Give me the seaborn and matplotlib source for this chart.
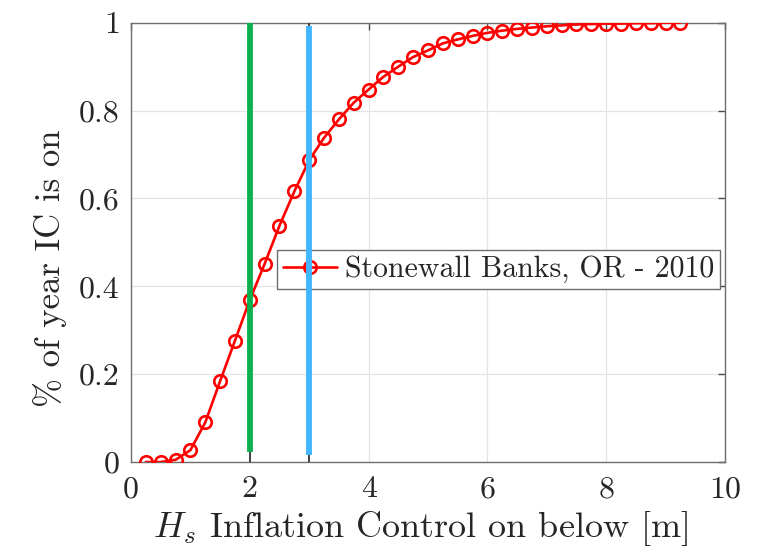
import matplotlib
matplotlib.use("Agg")
import matplotlib.pyplot as plt
import numpy as np
import pandas as pd
import seaborn as sns

# Significant wave height thresholds [m] and fraction of the year the control is on
hs_threshold = [0.25, 0.50, 0.75, 1.00, 1.25, 1.50, 1.75, 2.00, 2.25, 2.50,
                2.75, 3.00, 3.25, 3.50, 3.75, 4.00, 4.25, 4.50, 4.75, 5.00,
                5.25, 5.50, 5.75, 6.00, 6.25, 6.50, 6.75, 7.00, 7.25, 7.50,
                7.75, 8.00, 8.25, 8.50, 8.75, 9.00, 9.25]
frac_on = [0.000, 0.000, 0.005, 0.027, 0.090, 0.184, 0.276, 0.369, 0.451, 0.538,
           0.616, 0.687, 0.738, 0.780, 0.818, 0.848, 0.877, 0.900, 0.922, 0.937,
           0.953, 0.962, 0.970, 0.977, 0.982, 0.986, 0.989, 0.992, 0.994, 0.996,
           0.997, 0.998, 0.998, 0.999, 0.999, 1.000, 1.000]
series_label = "Stonewall Banks, OR - 2010"

# Vertical reference lines: (x position, y start, y end, colour)
ref_x = [2.0, 3.0]
ref_ymin = [0.023, 0.017]
ref_ymax = [1.000, 0.992]
ref_colors = ["#0cb04f", "#3fb6ff"]

xticks = [0, 2, 4, 6, 8, 10]
yticks = [0, 0.2, 0.4, 0.6, 0.8, 1.0]

sns.set_theme(style="whitegrid")
plt.rcParams.update({
    "font.family": "serif",
    "font.serif": ["cmr10"],
    "mathtext.fontset": "cm",
    "axes.formatter.use_mathtext": True,
    "axes.unicode_minus": False,
})

df = pd.DataFrame({"hs": hs_threshold, "frac": frac_on})

fig = plt.figure(figsize=(7.58, 5.52), dpi=100)
ax = fig.add_axes([0.1728, 0.163, 0.7836, 0.7958])
ax.set_facecolor("white")

sns.lineplot(data=df, x="hs", y="frac", ax=ax, color="#ff0000", linewidth=1.9,
             marker="o", markersize=9, markerfacecolor="none",
             markeredgecolor="#ff0000", markeredgewidth=1.9,
             label=series_label, zorder=3)

zorders = [4, 7]
for xv, y0, y1, c, z in zip(ref_x, ref_ymin, ref_ymax, ref_colors, zorders):
    ax.plot([xv, xv], [0, 1], color="#404040", linewidth=1.4, zorder=z - 0.5,
            solid_capstyle="butt")
    ax.plot([xv, xv], [y0, y1], color=c, linewidth=4.2, zorder=z,
            solid_capstyle="butt")

ax.set_xlim(0, 10)
ax.set_ylim(0, 1)
ax.set_xticks(xticks)
ax.set_yticks(yticks)
ax.set_xticklabels([f"{t:g}" for t in xticks])
ax.set_yticklabels([f"{t:g}" for t in yticks])

ax.grid(True, color="#e4e4e4", linewidth=0.9)
for s in ax.spines.values():
    s.set_visible(True)
    s.set_color("#6e6e6e")
    s.set_linewidth(1.0)
ax.tick_params(axis="both", direction="in", length=5, width=1.0,
               color="#4a4a4a", labelsize=23, labelcolor="#262626",
               top=True, right=True)
ax.tick_params(axis="x", pad=10)
ax.tick_params(axis="y", pad=8)

ax.set_xlabel(r"$H_s$ Inflation Control on below [m]", fontsize=26,
              color="#262626")
ax.set_ylabel("% of year IC is on", fontsize=25, color="#262626")
ax.xaxis.set_label_coords(0.488, -0.106)
ax.yaxis.set_label_coords(-0.136, 0.44)
ax.xaxis.label.set_va("top")
ax.yaxis.label.set_va("center")

leg = ax.legend(loc="center", bbox_to_anchor=(0.619, 0.438), fontsize=21.5,
                frameon=True, fancybox=False, framealpha=1, edgecolor="#6e6e6e",
                handlelength=1.8, handletextpad=0.25, borderpad=0.2,
                borderaxespad=0)
leg.get_frame().set_linewidth(1.0)
leg.set_zorder(5)

fig.savefig("out.png", dpi=100, facecolor="white")
